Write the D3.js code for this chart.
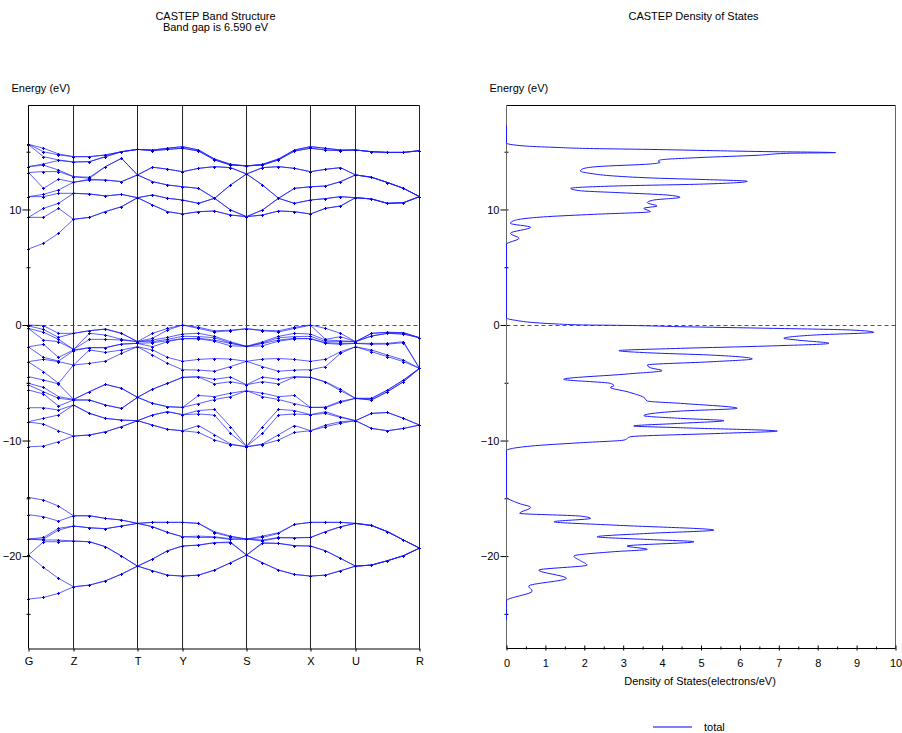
<!DOCTYPE html>
<html>
<head>
<meta charset="utf-8">
<script src="https://cdn.jsdelivr.net/npm/d3@7"></script>
<style>
    body { margin: 0; background: #fff; }
    svg text { font-family: "Liberation Sans", Arial, sans-serif; font-size: 11px; fill: #000; }
</style>
</head>
<body>
<svg id="chart" width="902" height="733"></svg>
<script>

// k-path coordinate of every k-point along G-Z-T-Y-S-X-U-R
var kPath = [0, 0.115, 0.230, 0.345, 0.4675, 0.590, 0.7125, 0.835, 0.950, 1.065, 1.180,
    1.3025, 1.425, 1.5475, 1.670, 1.7925, 1.915, 2.0375, 2.160, 2.275, 2.390, 2.505,
    2.6275, 2.750, 2.8725, 2.995];
var symLabels = ["G", "Z", "T", "Y", "S", "X", "U", "R"];
var symIndex = [0, 3, 7, 10, 14, 18, 21, 25];

var energyTicks = [-20, -10, 0, 10];
var energyMinorTicks = [-25, -15, -5, 5, 15];
var dosTicks = [0, 1, 2, 3, 4, 5, 6, 7, 8, 9, 10];

// energies (eV) at each k-point, one row per k-point
var conductionLevels = [
    [15.64, 15.64, 15.6, 13.71, 13.71, 13.2, 13.2, 11.11, 11.11, 9.32, 9.32, 6.58],
    [15.3, 15.0, 14.57, 13.94, 13.83, 13.28, 11.83, 11.31, 11.11, 10.1, 9.32, 7.07],
    [14.81, 14.72, 14.29, 14.24, 13.42, 13.28, 12.63, 11.69, 11.4, 10.53, 10.1, 7.94],
    [14.57, 14.57, 14.11, 14.11, 12.84, 12.84, 12.36, 12.36, 11.4, 11.4, 9.15, 9.15],
    [14.57, 14.57, 14.14, 14.14, 12.79, 12.7, 12.61, 12.55, 11.34, 11.34, 9.32, 9.32],
    [14.72, 14.72, 14.57, 14.57, 13.71, 13.71, 12.55, 12.55, 11.17, 11.17, 9.82, 9.82],
    [15.0, 15.0, 15.0, 15.0, 14.43, 14.43, 12.41, 12.41, 11.31, 11.31, 10.24, 10.24],
    [15.2, 15.2, 15.2, 15.2, 12.99, 12.99, 12.99, 12.99, 11.02, 11.02, 11.02, 11.02],
    [15.15, 15.15, 15.09, 15.09, 13.66, 13.66, 12.41, 12.41, 11.26, 11.26, 10.39, 10.39],
    [15.3, 15.3, 15.2, 15.2, 13.49, 13.49, 12.12, 12.12, 10.97, 10.97, 9.81, 9.81],
    [15.44, 15.44, 15.3, 15.3, 13.27, 13.27, 11.97, 11.97, 10.82, 10.82, 9.61, 9.61],
    [15.15, 15.15, 15.06, 15.06, 13.56, 13.56, 11.83, 11.83, 10.53, 10.53, 9.81, 9.81],
    [14.37, 14.37, 14.29, 14.29, 13.71, 13.71, 10.97, 10.97, 10.97, 10.97, 9.87, 9.87],
    [13.91, 13.91, 13.85, 13.85, 13.62, 13.62, 12.12, 12.12, 9.96, 9.96, 9.52, 9.52],
    [13.77, 13.77, 13.77, 13.77, 13.07, 13.07, 13.07, 13.07, 9.38, 9.38, 9.38, 9.38],
    [13.91, 13.91, 13.85, 13.85, 13.62, 13.62, 12.12, 12.12, 9.96, 9.96, 9.52, 9.52],
    [14.37, 14.37, 14.29, 14.29, 13.71, 13.71, 10.97, 10.97, 10.97, 10.97, 9.87, 9.87],
    [15.15, 15.15, 15.06, 15.06, 13.56, 13.56, 11.83, 11.83, 10.53, 10.53, 9.81, 9.81],
    [15.44, 15.44, 15.3, 15.3, 13.27, 13.27, 11.97, 11.97, 10.82, 10.82, 9.61, 9.61],
    [15.3, 15.3, 15.15, 15.15, 13.48, 13.48, 12.03, 12.03, 10.94, 10.94, 10.1, 10.1],
    [15.15, 15.15, 15.09, 15.09, 13.62, 13.62, 12.41, 12.41, 11.11, 11.11, 10.3, 10.3],
    [15.15, 15.15, 15.15, 15.15, 12.99, 12.99, 12.99, 12.99, 11.02, 11.02, 11.02, 11.02],
    [15.0, 15.0, 15.0, 15.0, 12.79, 12.79, 12.79, 12.79, 10.91, 10.91, 10.91, 10.91],
    [14.94, 14.94, 14.94, 14.94, 12.33, 12.33, 12.33, 12.33, 10.53, 10.53, 10.53, 10.53],
    [14.94, 14.94, 14.94, 14.94, 11.83, 11.83, 11.83, 11.83, 10.59, 10.59, 10.59, 10.59],
    [15.09, 15.09, 15.09, 15.09, 11.11, 11.11, 11.11, 11.11, 11.11, 11.11, 11.11, 11.11]
];

var valenceLevels = [
    [0, -0.08, -0.3, -0.3, -1.88, -1.9, -3.17, -3.2, -4.47, -5.05, -5.2, -5.63, -7.16, -8.37, -8.4, -10.54],
    [-0.06, -0.38, -0.63, -1.3, -1.67, -2.8, -2.97, -4.04, -4.76, -5.4, -5.77, -5.97, -7.16, -8.08, -8.57, -10.48],
    [-0.72, -1.07, -1.24, -1.44, -2.8, -3.12, -3.17, -5.05, -5.1, -6.2, -6.35, -7.01, -7.36, -7.79, -9.15, -10.1],
    [-0.72, -0.72, -2.11, -2.11, -2.16, -2.22, -3.46, -3.46, -6.44, -6.44, -6.49, -6.49, -6.93, -6.93, -9.61, -9.61],
    [-0.49, -0.49, -0.72, -1.24, -1.96, -1.96, -2.16, -3.32, -5.77, -5.77, -6.49, -6.49, -7.65, -7.65, -9.52, -9.52],
    [-0.35, -0.35, -0.87, -1.24, -1.96, -1.96, -2.37, -3.12, -5.14, -5.14, -6.93, -6.93, -8.08, -8.08, -9.24, -9.24],
    [-0.72, -0.72, -1.24, -1.3, -1.65, -1.65, -2.16, -2.45, -5.48, -5.48, -7.22, -7.22, -8.23, -8.23, -8.8, -8.8],
    [-1.44, -1.44, -1.44, -1.44, -1.59, -1.59, -1.88, -1.88, -6.26, -6.26, -6.26, -6.26, -8.28, -8.28, -8.28, -8.28],
    [-0.72, -1.15, -1.3, -1.44, -1.53, -1.88, -2.16, -2.6, -5.55, -5.55, -6.78, -6.78, -7.79, -7.79, -8.66, -8.66],
    [-0.29, -0.43, -1.07, -1.24, -1.36, -1.44, -2.8, -3.32, -5.05, -5.05, -7.07, -7.07, -7.5, -7.5, -9.03, -9.03],
    [0, 0, -0.78, -0.98, -1.18, -1.18, -3.14, -3.87, -4.53, -4.53, -7.13, -7.13, -7.76, -7.76, -9.15, -9.15],
    [-0.2, -0.3, -0.72, -1.0, -1.15, -1.2, -2.98, -3.9, -4.47, -4.5, -6.1, -6.8, -7.4, -7.7, -8.7, -9.3],
    [-0.5, -0.6, -0.98, -1.1, -1.3, -1.4, -2.9, -4.0, -4.7, -5.1, -6.2, -6.45, -7.3, -7.8, -9.5, -9.95],
    [-0.45, -0.5, -1.45, -1.55, -1.6, -1.8, -2.95, -3.6, -4.5, -4.9, -5.9, -6.2, -8.8, -9.38, -10.3, -10.35],
    [-0.32, -0.32, -1.85, -1.85, -1.85, -1.85, -3.14, -3.14, -5.17, -5.17, -5.69, -5.69, -10.5, -10.5, -10.54, -10.54],
    [-0.45, -0.5, -1.45, -1.55, -1.6, -1.8, -2.95, -3.6, -4.5, -4.9, -5.9, -6.2, -8.8, -9.38, -10.3, -10.35],
    [-0.5, -0.6, -0.98, -1.1, -1.3, -1.4, -2.9, -4.0, -4.7, -5.1, -6.2, -6.45, -7.3, -7.8, -9.5, -9.95],
    [-0.2, -0.3, -0.72, -1.0, -1.15, -1.2, -2.98, -3.9, -4.47, -4.5, -6.1, -6.8, -7.4, -7.7, -8.7, -9.3],
    [0, -0.02, -0.78, -0.98, -1.18, -1.18, -3.14, -3.87, -4.53, -4.53, -7.13, -7.13, -7.76, -7.76, -9.15, -9.15],
    [-0.29, -1.24, -1.3, -1.44, -1.53, -1.59, -2.97, -3.6, -4.91, -4.95, -7.1, -7.15, -7.5, -7.65, -8.66, -8.8],
    [-0.72, -1.01, -1.36, -1.44, -1.59, -1.67, -2.31, -2.45, -5.55, -5.69, -6.6, -6.7, -7.94, -8.0, -8.37, -8.51],
    [-1.44, -1.44, -1.44, -1.44, -1.59, -1.59, -1.88, -1.88, -6.35, -6.35, -6.35, -6.35, -8.28, -8.28, -8.28, -8.28],
    [-0.72, -0.72, -0.95, -0.95, -1.59, -1.67, -2.16, -2.31, -6.35, -6.35, -6.49, -6.49, -7.65, -7.65, -8.95, -8.95],
    [-0.63, -0.63, -0.72, -0.72, -1.59, -1.65, -2.6, -2.74, -5.63, -5.63, -5.77, -5.77, -7.57, -7.57, -9.15, -9.15],
    [-0.66, -0.66, -0.78, -0.78, -1.44, -1.53, -3.03, -3.17, -4.76, -4.76, -4.91, -4.91, -8.08, -8.08, -8.95, -8.95],
    [-1.1, -1.1, -1.1, -1.1, -3.75, -3.75, -3.75, -3.75, -3.75, -3.75, -3.75, -3.75, -8.66, -8.66, -8.66, -8.66]
];

var semicoreLevels = [
    [-23.72, -19.91, -19.91, -18.53, -18.53, -18.53, -16.42, -14.92],
    [-23.58, -20.98, -18.76, -18.61, -18.53, -18.39, -16.59, -15.15],
    [-23.23, -21.93, -18.76, -18.61, -17.75, -17.60, -16.97, -15.67],
    [-22.66, -22.66, -18.70, -18.70, -17.40, -17.40, -16.51, -16.51],
    [-22.51, -22.51, -18.76, -18.76, -17.55, -17.55, -16.51, -16.51],
    [-22.14, -22.14, -19.19, -19.19, -17.63, -17.63, -16.74, -16.74],
    [-21.56, -21.56, -20.00, -20.00, -17.40, -17.40, -16.88, -16.88],
    [-20.87, -20.87, -20.87, -20.87, -17.17, -17.17, -17.17, -17.17],
    [-21.27, -21.27, -20.26, -20.26, -17.46, -17.46, -17.08, -17.08],
    [-21.65, -21.65, -19.54, -19.54, -17.95, -17.95, -17.08, -17.08],
    [-21.73, -21.73, -19.13, -19.13, -18.33, -18.33, -17.08, -17.08],
    [-21.65, -21.65, -19.05, -19.05, -18.39, -18.27, -17.17, -17.17],
    [-21.21, -21.21, -18.84, -18.84, -18.39, -18.33, -17.98, -17.89],
    [-20.58, -20.58, -18.84, -18.78, -18.56, -18.50, -18.33, -18.27],
    [-19.91, -19.91, -19.91, -19.91, -18.53, -18.53, -18.53, -18.53],
    [-20.58, -20.58, -18.90, -18.84, -18.70, -18.61, -18.39, -18.27],
    [-21.21, -21.21, -18.90, -18.90, -18.42, -18.39, -18.04, -17.98],
    [-21.59, -21.59, -19.10, -19.10, -18.42, -18.42, -17.26, -17.26],
    [-21.73, -21.73, -19.13, -19.13, -18.39, -18.39, -17.08, -17.08],
    [-21.65, -21.65, -19.54, -19.54, -17.89, -17.89, -17.08, -17.08],
    [-21.27, -21.27, -20.20, -20.20, -17.46, -17.46, -17.08, -17.08],
    [-20.87, -20.87, -20.87, -20.87, -17.17, -17.17, -17.17, -17.17],
    [-20.78, -20.78, -20.78, -20.78, -17.35, -17.35, -17.35, -17.35],
    [-20.40, -20.40, -20.40, -20.40, -17.89, -17.89, -17.89, -17.89],
    [-19.97, -19.97, -19.97, -19.97, -18.61, -18.61, -18.61, -18.61],
    [-19.31, -19.31, -19.31, -19.31, -19.31, -19.31, -19.31, -19.31]
];

// total density of states: energy (eV) and value (electrons/eV)
var dosEnergy = [17.3, 15.75, 15.5, 15.38, 15.27, 15.2, 15.09, 15.0, 14.95, 14.92, 14.87, 14.69,
    14.5, 14.29, 14.18, 14.08, 13.94, 13.71, 13.5, 13.33, 13.1, 12.9, 12.7, 12.61, 12.44, 12.2,
    12.03, 11.83, 11.62, 11.45, 11.25, 11.05, 10.82, 10.59, 10.3, 10.1, 9.81, 9.58, 9.38, 9.03,
    8.8, 8.46, 7.94, 7.5, 7.0, 0.6, 0.43, 0.09, 0.0, -0.03, -0.14, -0.29, -0.43, -0.63, -0.87,
    -1.15, -1.3, -1.59, -1.82, -2.02, -2.22, -2.4, -2.6, -2.94, -3.17, -3.46, -3.7, -3.95, -4.24,
    -4.7, -5.05, -5.25, -5.4, -5.77, -6.26, -6.58, -6.78, -7.21, -7.45, -7.85, -8.08, -8.28,
    -8.51, -8.74, -8.89, -9.18, -9.38, -9.67, -9.96, -10.19, -10.48, -10.88, -14.86, -15.44,
    -15.79, -16.3, -16.54, -16.74, -17.03, -17.32, -17.75, -18.04, -18.33, -18.56, -18.76,
    -19.13, -19.42, -19.62, -20.0, -20.4, -20.78, -21.21, -21.93, -22.6, -23.03, -23.87, -25.5];
var dosTotal = [0, 0, 0.45, 1.22, 2.24, 3.66, 5.33, 6.87, 8.16, 8.46, 7.3, 6.44,
    5.0, 3.96, 3.9, 3.95, 3.7, 2.33, 1.95, 1.9, 2.2, 2.76, 3.96, 4.9, 6.19, 5.07,
    2.76, 1.65, 1.9, 2.93, 4.13, 4.46, 3.79, 3.62, 3.87, 3.53, 3.7, 2.24, 1.05, 0.19,
    0.1, 0.62, 0.1, 0.32, 0, 0, 0.19, 1.3, 2.07, 2.93, 4.39, 6.87, 8.84, 9.44, 7.9,
    7.13, 7.47, 8.29, 6.7, 4.47, 2.89, 3.62, 5.24, 6.32, 5.33, 3.62, 3.7, 4.0, 3.1,
    1.47, 2.67, 2.76, 2.67, 3.1, 3.53, 3.62, 4.47, 5.93, 4.47, 3.53, 4.47, 5.59,
    4.47, 3.27, 4.47, 6.96, 5.5, 3.19, 3.02, 1.9, 0.62, 0, 0, 0.32,
    0.62, 0.34, 1.9, 2.16, 1.22, 2.76, 5.33, 3.62, 2.33, 3.62, 4.82,
    3.1, 3.62, 2.76, 1.73, 1.9, 2.07, 0.83, 1.54, 0.57, 0.66, 0, 0];

var BLUE = "#1a1aff";

var svg = d3.select("#chart");

var bandX = d3.scaleLinear().domain([0, kPath[kPath.length - 1]]).range([28.5, 419.5]);
var energyY = d3.scaleLinear().domain([-28, 19]).range([648.5, 105.5]);
var dosX = d3.scaleLinear().domain([0, 10]).range([506.5, 895.5]);

var zeroY = Math.round(energyY(0)) + 0.5;

/**
 * Turn rows of energies per k-point into band lines (sorted by index).
 * @param levels
 * @returns {Array} one array of {k, e} per band
 */
function toBands(levels) {
    var sorted = levels.map(function (row) { return row.slice().sort(d3.ascending); });
    return d3.range(sorted[0].length).map(function (b) {
        return sorted.map(function (row, i) { return {k: kPath[i], e: row[b]}; });
    });
}

/**
 * Draw the energy axis (labels at 10 eV, minor ticks at 5 eV) at pixel x.
 */
function drawEnergyAxis(x, color) {
    var major = svg.append("g")
        .attr("transform", "translate(" + (x + 2) + ",0)")
        .call(d3.axisLeft(energyY).tickValues(energyTicks).tickSizeInner(8).tickSizeOuter(0).tickPadding(1));
    major.select(".domain").remove();
    major.selectAll("line").attr("stroke", "#000");
    major.selectAll("text").style("font-size", "11px").attr("font-family", null);

    var minor = svg.append("g")
        .attr("transform", "translate(" + (x + 2) + ",0)")
        .call(d3.axisLeft(energyY).tickValues(energyMinorTicks).tickSizeInner(4).tickSizeOuter(0).tickFormat(""));
    minor.select(".domain").remove();
    minor.selectAll("line").attr("stroke", "#000");

    svg.append("line")
        .attr("x1", x).attr("x2", x)
        .attr("y1", 105.5).attr("y2", 648.5)
        .attr("stroke", color);

    svg.append("text").attr("x", x - 17).attr("y", 92).text("Energy (eV)");
}

/* ---------- band structure panel ---------- */

svg.append("text").attr("x", 215.5).attr("y", 20).attr("text-anchor", "middle").text("CASTEP Band Structure");
svg.append("text").attr("x", 215.5).attr("y", 31).attr("text-anchor", "middle").text("Band gap is 6.590 eV");

// frame top
svg.append("line").attr("x1", 28.5).attr("x2", 419.5).attr("y1", 105.5).attr("y2", 105.5).attr("stroke", "#000");

// high symmetry lines
svg.append("g").selectAll("line")
    .data(symIndex)
    .join("line")
    .attr("x1", function (i) { return bandX(kPath[i]); })
    .attr("x2", function (i) { return bandX(kPath[i]); })
    .attr("y1", 105.5).attr("y2", 648.5)
    .attr("stroke", "#222");

// zero line
svg.append("line")
    .attr("x1", 28.5).attr("x2", 419.5).attr("y1", zeroY).attr("y2", zeroY)
    .attr("stroke", "#555").attr("stroke-dasharray", "4,3");

var bandLine = d3.line()
    .x(function (d) { return bandX(d.k); })
    .y(function (d) { return energyY(d.e); });

var allBands = toBands(conductionLevels).concat(toBands(valenceLevels), toBands(semicoreLevels));

var bandGroup = svg.append("g").attr("class", "bands");

bandGroup.selectAll("path.band")
    .data(allBands)
    .join("path")
    .attr("class", "band")
    .attr("d", bandLine)
    .attr("fill", "none")
    .attr("stroke", BLUE)
    .attr("stroke-opacity", 0.7)
    .attr("stroke-width", 1);

// small + markers at every computed k-point
bandGroup.selectAll("path.marker")
    .data(allBands)
    .join("path")
    .attr("class", "marker")
    .attr("d", function (band) {
        return band.map(function (d) {
            var x = bandX(d.k), y = Math.round(energyY(d.e)) + 0.5;
            return "M" + (x - 1.5) + "," + y + "h3M" + x + "," + (y - 1.5) + "v3";
        }).join("");
    })
    .attr("fill", "none")
    .attr("stroke", "#0000dd")
    .attr("stroke-width", 1);

drawEnergyAxis(28.5, "#000");

// bottom axis with the k-point labels
var kAxis = svg.append("g")
    .attr("transform", "translate(0,648.5)")
    .call(d3.axisBottom(bandX)
        .tickValues(symIndex.map(function (i) { return kPath[i]; }))
        .tickFormat(function (d, i) { return symLabels[i]; })
        .tickSizeInner(3).tickSizeOuter(0).tickPadding(6));
kAxis.select(".domain").attr("stroke", "#000");
kAxis.selectAll("text").style("font-size", "11px").attr("font-family", null);

/* ---------- density of states panel ---------- */

svg.append("text").attr("x", 693.5).attr("y", 20).attr("text-anchor", "middle").text("CASTEP Density of States");

svg.append("line").attr("x1", 506.5).attr("x2", 895.5).attr("y1", 105.5).attr("y2", 105.5).attr("stroke", "#000");
svg.append("line").attr("x1", 895.5).attr("x2", 895.5).attr("y1", 105.5).attr("y2", 648.5).attr("stroke", "#666");

svg.append("line")
    .attr("x1", 506.5).attr("x2", 895.5).attr("y1", zeroY).attr("y2", zeroY)
    .attr("stroke", "#555").attr("stroke-dasharray", "4,3");

drawEnergyAxis(506.5, "#666");

var dosAxis = svg.append("g")
    .attr("transform", "translate(0,645.5)")
    .call(d3.axisBottom(dosX).tickValues(dosTicks).tickSizeInner(5).tickSizeOuter(0).tickPadding(9));
dosAxis.select(".domain").remove();
dosAxis.selectAll("line").attr("stroke", "#000");
dosAxis.selectAll("text").style("font-size", "11px").attr("font-family", null);

var dosMinor = svg.append("g")
    .attr("transform", "translate(0,646.5)")
    .call(d3.axisBottom(dosX).tickValues(d3.range(0.5, 10, 1)).tickSizeInner(3).tickSizeOuter(0).tickFormat(""));
dosMinor.select(".domain").remove();
dosMinor.selectAll("line").attr("stroke", "#000");

svg.append("line").attr("x1", 506.5).attr("x2", 895.5).attr("y1", 648.5).attr("y2", 648.5).attr("stroke", "#000");

svg.append("text").attr("x", 700).attr("y", 685).attr("text-anchor", "middle").text("Density of States(electrons/eV)");

var dosPoints = dosEnergy.map(function (e, i) { return {e: e, v: dosTotal[i]}; });

svg.append("path")
    .datum(dosPoints)
    .attr("d", d3.line()
        .x(function (d) { return dosX(d.v); })
        .y(function (d) { return energyY(d.e); })
        .curve(d3.curveMonotoneY))
    .attr("fill", "none")
    .attr("stroke", BLUE)
    .attr("stroke-width", 1);

// legend
svg.append("line")
    .attr("x1", 653).attr("x2", 692).attr("y1", 727).attr("y2", 727)
    .attr("stroke", "#0000ff").attr("stroke-width", 1.2);
svg.append("text").attr("x", 704).attr("y", 731).text("total");

</script>
</body>
</html>
